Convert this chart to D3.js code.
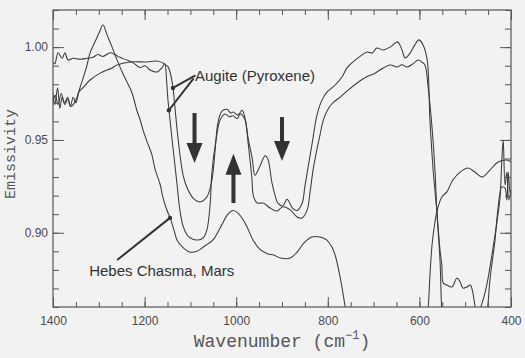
<!DOCTYPE html>
<html><head><meta charset="utf-8">
<script src="https://cdn.jsdelivr.net/npm/d3@7"></script>
<style>
html,body{margin:0;padding:0;background:#f2f2f2;}
svg{display:block;}
</style></head>
<body>
<svg id="chart" width="525" height="358"></svg>
<script>
// ---- data (wavenumber cm^-1, emissivity) ----
const hebesChasma = [[1400,0.970],[1395,0.974],[1389,0.969],[1382,0.975],[1375,0.970],[1368,0.973],[1361,0.968],[1352,0.9705],[1345,0.975],[1340,0.979],[1334,0.9834],[1326,0.990],[1319,0.997],[1308,1.003],[1297,1.009],[1291,1.012],[1282,1.0066],[1271,1.000],[1260,0.993],[1249,0.9866],[1238,0.981],[1227,0.975],[1217,0.966],[1210,0.961],[1203,0.955],[1193,0.948],[1184,0.942],[1177,0.934],[1166,0.926],[1160,0.919],[1151,0.912],[1144,0.908],[1136,0.9015],[1129,0.896],[1116,0.892],[1101,0.8896],[1086,0.890],[1068,0.893],[1051,0.896],[1035,0.9026],[1018,0.910],[1007,0.912],[996,0.9106],[985,0.907],[976,0.903],[963,0.896],[948,0.891],[931,0.8886],[918,0.888],[904,0.8864],[882,0.8864],[867,0.8896],[852,0.8945],[835,0.8977],[817,0.8977],[802,0.896],[791,0.8923],[784,0.888],[773,0.876],[762,0.860],[755,0.848],[600,0.848],[586,0.852],[581,0.8595],[577,0.877],[572,0.8945],[566,0.9058],[561,0.9123],[551,0.9193],[540,0.922],[527,0.9284],[511,0.9327],[494,0.9349],[479,0.9327],[463,0.930],[446,0.9338],[428,0.9381],[409,0.9392],[400,0.9381]];

const augiteA = [[1400,0.975],[1396,0.969],[1390,0.978],[1385,0.967],[1380,0.973],[1374,0.969],[1368,0.972],[1362,0.968],[1356,0.973],[1350,0.970],[1343,0.976],[1335,0.978],[1319,0.9823],[1297,0.986],[1271,0.9888],[1260,0.9904],[1232,0.992],[1195,0.992],[1175,0.9925],[1160,0.9915],[1152,0.990],[1149,0.9895],[1144.5,0.9866],[1138,0.978],[1133.6,0.9672],[1129,0.9554],[1122.7,0.9419],[1116,0.9311],[1107,0.9241],[1094,0.9187],[1079,0.9166],[1064,0.9193],[1053,0.9284],[1046,0.9446],[1040,0.959],[1031,0.9655],[1020,0.9665],[1012,0.9645],[1007,0.965],[996,0.9635],[987,0.966],[981,0.962],[974,0.951],[965,0.940],[959,0.931],[948,0.936],[937,0.9415],[931,0.9398],[922,0.927],[915,0.920],[909,0.916],[898,0.9145],[889,0.918],[876,0.913],[867,0.912],[856,0.916],[850,0.925],[843,0.9354],[834,0.9484],[824,0.963],[813,0.9713],[802,0.9758],[791,0.978],[784,0.9796],[769,0.9839],[758,0.9888],[745,0.992],[725,0.9958],[714,0.9974],[703,0.9969],[693,0.9995],[680,0.9985],[664,1.000],[653,1.0022],[647,1.0028],[638,0.9985],[631,0.9942],[620,0.9969],[610,1.0012],[601,1.0039],[592,1.0012],[583,0.9931],[577,0.9608],[570,0.9338],[562,0.912],[555,0.8907],[551,0.8826],[548,0.873],[540,0.8718],[529,0.8708],[518,0.8756],[511,0.8735],[505,0.8702],[496,0.8708],[489,0.8718],[483,0.8675],[478,0.860],[472,0.857],[461,0.8638],[452,0.873],[441,0.889],[430,0.9069],[424,0.919],[420,0.939],[417,0.950],[413,0.9257],[409,0.9327],[405,0.9177],[400,0.923]];

const augiteB = [[1400,0.992],[1396,0.991],[1389,0.997],[1380,0.994],[1374,0.997],[1367,0.993],[1356,0.994],[1341,0.9935],[1326,0.994],[1313,0.9945],[1302,0.996],[1291,0.995],[1275,0.997],[1265,0.996],[1254,0.9945],[1238,0.993],[1225,0.9915],[1210,0.989],[1199,0.990],[1188,0.9877],[1173,0.9866],[1162,0.989],[1156,0.991],[1152,0.982],[1149,0.9715],[1144.5,0.9608],[1140,0.950],[1135,0.9392],[1129,0.9257],[1123,0.9123],[1116,0.9036],[1107,0.8988],[1096,0.8966],[1083,0.8961],[1072,0.8972],[1064,0.9015],[1057,0.915],[1053,0.9327],[1044,0.950],[1035,0.9608],[1024,0.964],[1015,0.9625],[1007,0.963],[998,0.9615],[991,0.964],[981,0.961],[974,0.9484],[966,0.930],[962,0.9193],[954,0.916],[941,0.916],[926,0.9133],[911,0.9117],[898,0.914],[882,0.9123],[867,0.9085],[856,0.908],[845,0.9123],[839,0.9214],[832,0.934],[824,0.9446],[817,0.9527],[810,0.9605],[802,0.9655],[791,0.9695],[773,0.9731],[755,0.977],[736,0.9807],[715,0.984],[700,0.9855],[686,0.9877],[664,0.9904],[649,0.9893],[638,0.9905],[627,0.9893],[614,0.991],[603,0.9931],[595,0.992],[588,0.9904],[581,0.9785],[572,0.9554],[566,0.9338],[562,0.912],[555,0.885],[551,0.858],[545,0.845],[465,0.845],[452,0.8584],[446,0.8745],[435,0.896],[428,0.914],[420,0.9247],[413,0.924],[409,0.9176],[406,0.9327],[402,0.9214],[400,0.923]];

const xMajorTicks = [1400,1200,1000,800,600,400];
const xTickLabels = ["1400","1200","1000","800","600","400"];
const xMinorTicks = [1400,1350,1300,1250,1200,1150,1100,1050,1000,950,900,850,800,750,700,650,600,550,500,450,400];
const yMajorTicks = [0.90,0.95,1.00];
const yTickLabels = ["0.90","0.95","1.00"];
const yMinorTicks = [0.86,0.87,0.88,0.89,0.90,0.91,0.92,0.93,0.94,0.95,0.96,0.97,0.98,0.99,1.00,1.01,1.02];

// annotations: [wavenumber, emissivity]
const augiteLabel = {text:"Augite (Pyroxene)", at:[1090,0.9815]};
const augiteLeaders = [[[1089,0.9848],[1138,0.978]],[[1093,0.9832],[1147,0.966]]];
const marsLabel = {text:"Hebes Chasma, Mars", at:[1321,0.8767]};
const marsLeader = [[1260,0.8853],[1144.5,0.908]];
const downArrows = [{w:1091,top:0.9645,tip:0.9376},{w:900,top:0.9623,tip:0.9386}];
const upArrows = [{w:1006,bottom:0.916,tip:0.9425}];

// ---- layout ----
const L=53,R=511,T=10,B=307;
const svg = d3.select("#chart");
svg.append("rect").attr("width",525).attr("height",358).attr("fill","#f2f2f2");
const x = d3.scaleLinear().domain([1400,400]).range([L,R]);
const y = d3.scaleLinear().domain([0.86,1.02]).range([B,T]);
const ink="#333";

svg.append("clipPath").attr("id","clip").append("rect")
  .attr("x",L).attr("y",T).attr("width",R-L).attr("height",B-T);

const line = d3.line().x(d=>x(d[0])).y(d=>y(d[1])).curve(d3.curveCatmullRom.alpha(0.5));
const plot = svg.append("g").attr("clip-path","url(#clip)");
[hebesChasma, augiteA, augiteB].forEach(s=>{
  plot.append("path").attr("d",line(s)).attr("fill","none")
    .attr("stroke","#3a3a3a").attr("stroke-width",1.05).attr("stroke-linejoin","round");
});

// axes
function styleAxis(g){
  g.select(".domain").remove();
  g.selectAll(".tick line").attr("stroke","#555").attr("stroke-width",1);
  g.selectAll(".tick text").attr("fill","#4a4a4a").style("font-family","'Liberation Sans',Arial,sans-serif").style("font-size","12px");
}
const fmtX = d=>xTickLabels[xMajorTicks.indexOf(d)];
const fmtY = d=>yTickLabels[yMajorTicks.findIndex(v=>Math.abs(v-d)<1e-9)];

svg.append("g").attr("transform",`translate(0,${B})`)
  .call(d3.axisBottom(x).tickValues(xMinorTicks).tickSizeInner(-5).tickSizeOuter(0).tickFormat("")).call(styleAxis);
svg.append("g").attr("transform",`translate(0,${B})`)
  .call(d3.axisBottom(x).tickValues(xMajorTicks).tickSizeInner(-10).tickSizeOuter(0).tickPadding(9).tickFormat(fmtX)).call(styleAxis);
svg.append("g").attr("transform",`translate(0,${T})`)
  .call(d3.axisTop(x).tickValues(xMinorTicks).tickSizeInner(-5).tickSizeOuter(0).tickFormat("")).call(styleAxis);
svg.append("g").attr("transform",`translate(0,${T})`)
  .call(d3.axisTop(x).tickValues(xMajorTicks).tickSizeInner(-10).tickSizeOuter(0).tickFormat("")).call(styleAxis);
svg.append("g").attr("transform",`translate(${L},0)`)
  .call(d3.axisLeft(y).tickValues(yMinorTicks).tickSizeInner(-6).tickSizeOuter(0).tickFormat("")).call(styleAxis);
svg.append("g").attr("transform",`translate(${L},0)`)
  .call(d3.axisLeft(y).tickValues(yMajorTicks).tickSizeInner(-11).tickSizeOuter(0).tickPadding(5).tickFormat(fmtY)).call(styleAxis);
svg.append("g").attr("transform",`translate(${R},0)`)
  .call(d3.axisRight(y).tickValues(yMinorTicks).tickSizeInner(-6).tickSizeOuter(0).tickFormat("")).call(styleAxis);
svg.append("g").attr("transform",`translate(${R},0)`)
  .call(d3.axisRight(y).tickValues(yMajorTicks).tickSizeInner(-11).tickSizeOuter(0).tickFormat("")).call(styleAxis);

svg.append("rect").attr("x",L).attr("y",T).attr("width",R-L).attr("height",B-T)
  .attr("fill","none").attr("stroke","#555").attr("stroke-width",1.2);

// axis titles
svg.append("text").attr("transform","translate(15,154) rotate(-90)")
  .attr("text-anchor","middle").attr("fill","#555")
  .style("font-family","'Liberation Mono','Courier New',monospace").style("font-size","15px")
  .text("Emissivity");
const xt = svg.append("text").attr("x",(L+R)/2).attr("y",347).attr("text-anchor","middle").attr("fill","#555")
  .style("font-family","'Liberation Mono','Courier New',monospace").style("font-size","18px");
xt.append("tspan").text("Wavenumber (cm");
xt.append("tspan").attr("dy",-8).style("font-size","12px").text("\u22121");
xt.append("tspan").attr("dy",8).text(")");

// annotations
const annFont = "'Liberation Sans',Arial,sans-serif";
svg.append("text").attr("x",x(augiteLabel.at[0])).attr("y",y(augiteLabel.at[1]))
  .attr("fill",ink).style("font-family",annFont).style("font-size","15px").text(augiteLabel.text);
svg.append("text").attr("x",x(marsLabel.at[0])).attr("y",y(marsLabel.at[1]))
  .attr("fill",ink).style("font-family",annFont).style("font-size","15px").text(marsLabel.text);
const straight = d3.line().x(d=>x(d[0])).y(d=>y(d[1]));
[...augiteLeaders, marsLeader].forEach(l=>{
  svg.append("path").attr("d",straight(l)).attr("stroke",ink).attr("stroke-width",2).attr("fill","none");
  svg.append("circle").attr("cx",x(l[1][0])).attr("cy",y(l[1][1])).attr("r",2.2).attr("fill",ink);
});
downArrows.forEach(a=>{
  const cx=x(a.w), t=y(a.top), p=y(a.tip), hb=p-20;
  svg.append("rect").attr("x",cx-2).attr("y",t).attr("width",4).attr("height",hb-t+1).attr("fill",ink);
  svg.append("path").attr("d",`M${cx-8},${hb}L${cx+8},${hb}L${cx},${p}Z`).attr("fill",ink);
});
upArrows.forEach(a=>{
  const cx=x(a.w), b=y(a.bottom), p=y(a.tip), hb=p+21;
  svg.append("rect").attr("x",cx-2).attr("y",hb-1).attr("width",4).attr("height",b-hb+1).attr("fill",ink);
  svg.append("path").attr("d",`M${cx-8},${hb}L${cx+8},${hb}L${cx},${p}Z`).attr("fill",ink);
});
</script>
</body></html>
